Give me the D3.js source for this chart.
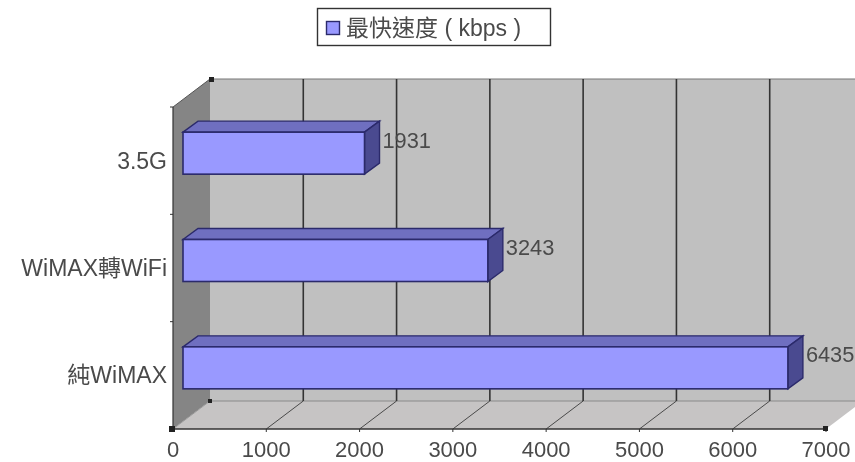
<!DOCTYPE html>
<html><head><meta charset="utf-8">
<style>html,body{margin:0;padding:0;background:#fff;overflow:hidden}svg{display:block;filter:blur(0.35px)}
text{font-family:"Liberation Sans","Noto Sans CJK TC",sans-serif;fill:#4a4a4a}</style>
<script src="https://cdn.jsdelivr.net/npm/d3@7"></script></head><body>
<svg id="c" width="855" height="462"></svg>
<script>
const categories = ["3.5G", "WiMAX轉WiFi", "純WiMAX"];
const values = [1931, 3243, 6435];
const xTicks = [0, 1000, 2000, 3000, 4000, 5000, 6000, 7000];
const legendLabel = "最快速度 ( kbps )";

const svg = d3.select("#c");
const x = d3.scaleLinear().domain([0, 7000]).range([173, 826]);
const barX = d3.scaleLinear().domain([0, 7000]).range([183, 841]);
const y = d3.scaleBand().domain(categories).range([107, 429]);
const dx = 37, dy = -28, bdx = 15, bdy = -11, barH = 42;
const x0 = x(0), x1 = x(7000), yT = y.range()[0], yB = y.range()[1];
const poly = p => p.map(q => q.join(",")).join(" ");

// walls and floor
svg.append("polygon").attr("points", poly([[x0 + dx, yT + dy], [x1 + dx, yT + dy], [x1 + dx, yB + dy], [x0 + dx, yB + dy]])).attr("fill", "#c0c0c0");
svg.append("polygon").attr("points", poly([[x0, yT], [x0 + dx, yT + dy], [x0 + dx, yB + dy], [x0, yB]])).attr("fill", "#858585");
svg.append("polygon").attr("points", poly([[x0, yB], [x1, yB], [x1 + dx, yB + dy], [x0 + dx, yB + dy]])).attr("fill", "#c6c4c4");

// frame lines
svg.append("line").attr("x1", x0 + dx).attr("x2", x1 + dx).attr("y1", yT + dy).attr("y2", yT + dy).attr("stroke", "#777").attr("stroke-width", 1.2);
svg.append("line").attr("x1", x0 + dx).attr("x2", x1 + dx).attr("y1", yB + dy).attr("y2", yB + dy).attr("stroke", "#8a8a8a").attr("stroke-width", 1);
svg.append("line").attr("x1", x0).attr("x2", x0 + dx).attr("y1", yT).attr("y2", yT + dy).attr("stroke", "#555");
svg.append("line").attr("x1", x0).attr("x2", x0 + dx).attr("y1", yB).attr("y2", yB + dy).attr("stroke", "#999");

// gridlines
const grid = xTicks.slice(1, -1);
svg.selectAll(".gw").data(grid).join("line").attr("class", "gw").attr("x1", d => x(d) + dx).attr("x2", d => x(d) + dx)
  .attr("y1", yT + dy).attr("y2", yB + dy).attr("stroke", "#333").attr("stroke-width", 1.6);
svg.selectAll(".gf").data(grid).join("line").attr("class", "gf").attr("x1", d => x(d) + dx).attr("x2", d => x(d))
  .attr("y1", yB + dy).attr("y2", yB).attr("stroke", "#4a4a4a").attr("stroke-width", 1);

// axes
svg.append("line").attr("x1", x0).attr("x2", x0).attr("y1", yT).attr("y2", yB).attr("stroke", "#333").attr("stroke-width", 1.2);
svg.append("line").attr("x1", x0).attr("x2", x1).attr("y1", yB).attr("y2", yB).attr("stroke", "#333").attr("stroke-width", 1.3);
const yTicks = y.domain().map(d => y(d)).concat(yB);
svg.selectAll(".ty").data(yTicks).join("line").attr("class", "ty").attr("x1", x0 - 3).attr("x2", x0).attr("y1", d => d).attr("y2", d => d).attr("stroke", "#333");
svg.selectAll(".tx").data(xTicks).join("line").attr("class", "tx").attr("x1", d => x(d)).attr("x2", d => x(d)).attr("y1", yB).attr("y2", yB + 3).attr("stroke", "#333");

// corner handles
const handles = [[x0 + dx - 1, yT + dy - 2, 5], [x0 - 4, yB - 3, 6], [x1 - 3, yB - 3, 5], [x0 + dx - 2, yB + dy - 2, 4]];
svg.selectAll(".h").data(handles).join("rect").attr("class", "h").attr("x", d => d[0]).attr("y", d => d[1]).attr("width", d => d[2]).attr("height", d => d[2]).attr("fill", "#222");

// bars
const rows = categories.map((c, i) => ({ c, v: values[i] }));
const g = svg.selectAll(".bar").data(rows).join("g").attr("class", "bar");
const barTop = d => y(d.c) + y.bandwidth() / 2 - barH / 2 + bdy / 2 - 2;
const stroke = "#2b2a6b";
g.append("polygon").attr("fill", "#6f6fc0").attr("stroke", stroke).attr("stroke-width", 1.4)
  .attr("points", d => poly([[barX(0), barTop(d)], [barX(d.v), barTop(d)], [barX(d.v) + bdx, barTop(d) + bdy], [barX(0) + bdx, barTop(d) + bdy]]));
g.append("polygon").attr("fill", "#4a4a90").attr("stroke", stroke).attr("stroke-width", 1.4)
  .attr("points", d => poly([[barX(d.v), barTop(d)], [barX(d.v) + bdx, barTop(d) + bdy], [barX(d.v) + bdx, barTop(d) + bdy + barH], [barX(d.v), barTop(d) + barH]]));
g.append("rect").attr("fill", "#9999ff").attr("stroke", stroke).attr("stroke-width", 1.6)
  .attr("x", barX(0)).attr("y", barTop).attr("width", d => barX(d.v) - barX(0)).attr("height", barH);
g.append("text").attr("x", d => barX(d.v) + bdx + 3).attr("y", d => barTop(d) + 8).attr("dy", "0.35em")
  .attr("font-size", 21.8).text(d => d.v);

// axis labels
svg.selectAll(".lx").data(xTicks).join("text").attr("class", "lx").attr("x", d => x(d)).attr("y", 457).attr("text-anchor", "middle")
  .attr("font-size", 22).text(d => d);
svg.selectAll(".ly").data(categories).join("text").attr("class", "ly").attr("x", 167).attr("y", d => y(d) + y.bandwidth() / 2).attr("dy", "0.35em")
  .attr("text-anchor", "end").attr("font-size", 23).text(d => d);

// legend
svg.append("rect").attr("x", 317.5).attr("y", 8.5).attr("width", 233).attr("height", 37).attr("fill", "#fff").attr("stroke", "#333").attr("stroke-width", 1.4);
svg.append("rect").attr("x", 326.5).attr("y", 21.5).attr("width", 13).attr("height", 13).attr("fill", "#9999ff").attr("stroke", stroke).attr("stroke-width", 1.4);
svg.append("text").attr("x", 346).attr("y", 36).attr("font-size", 23).text(legendLabel);
</script></body></html>
